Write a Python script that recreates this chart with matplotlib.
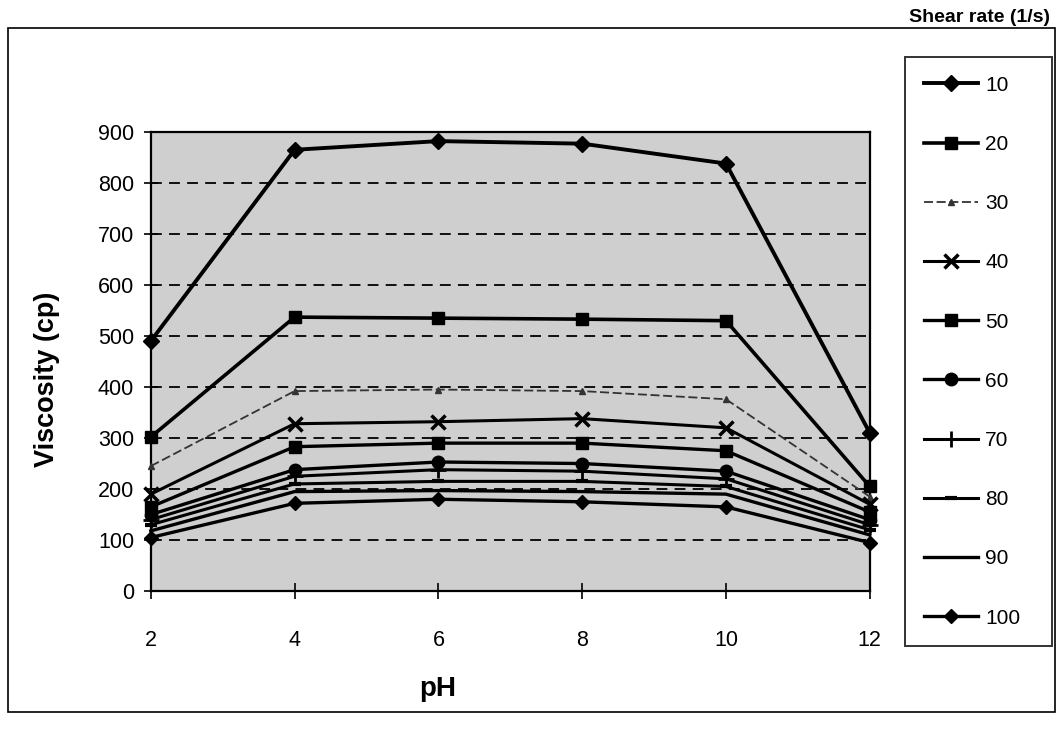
import matplotlib.pyplot as plt
from matplotlib.patches import Rectangle

plt.rcParams['font.family'] = ['Liberation Sans', 'DejaVu Sans']

ph = [2, 4, 6, 8, 10, 12]
shear_rates = ['10', '20', '30', '40', '50', '60', '70', '80', '90', '100']

# viscosity (cp) at each pH, one list per shear rate
visc_10 = [490, 865, 882, 877, 838, 310]
visc_20 = [302, 537, 535, 533, 530, 205]
visc_30 = [245, 392, 395, 392, 376, 185]
visc_40 = [190, 328, 332, 338, 320, 170]
visc_50 = [165, 283, 290, 290, 275, 155]
visc_60 = [150, 238, 253, 250, 235, 140]
visc_70 = [140, 225, 238, 235, 220, 130]
visc_80 = [130, 210, 215, 215, 205, 120]
visc_90 = [118, 195, 197, 195, 190, 110]
visc_100 = [105, 172, 180, 175, 165, 95]

series = [visc_10, visc_20, visc_30, visc_40, visc_50,
          visc_60, visc_70, visc_80, visc_90, visc_100]

# marker, size, line width, line style for each shear rate
styles = [
    dict(marker='D', ms=8, lw=2.8, ls='-'),
    dict(marker='s', ms=9, lw=2.6, ls='-'),
    dict(marker='^', ms=4, lw=1.3, ls=(0, (5, 2)), color='#333333'),
    dict(marker='x', ms=10, mew=2.5, lw=2.2, ls='-'),
    dict(marker='s', ms=8, lw=2.4, ls='-'),
    dict(marker='o', ms=9, lw=2.4, ls='-'),
    dict(marker='+', ms=11, mew=2, lw=2.2, ls='-'),
    dict(marker='_', ms=9, mew=3, lw=2.2, ls='-'),
    dict(marker='', lw=2.4, ls='-'),
    dict(marker='D', ms=7, lw=2.4, ls='-'),
]

fig = plt.figure(figsize=(10.62, 7.37), dpi=100)
ax = fig.add_axes([0.142, 0.198, 0.677, 0.623])
ax.set_facecolor('#cfcfcf')

for vals, lab, st in zip(series, shear_rates, styles):
    st = dict(st)
    color = st.pop('color', 'black')
    ax.plot(ph, vals, color=color, mfc=color, mec=color, label=lab,
            clip_on=False, zorder=3, **st)

ax.set_xlim(2, 12)
ax.set_ylim(0, 900)
ax.set_xticks(ph)
ax.set_yticks(range(0, 901, 100))
ax.yaxis.grid(True, color='black', lw=1.3, ls=(0, (6, 4)))
ax.set_axisbelow(True)
for sp in ax.spines.values():
    sp.set_linewidth(1.6)

ax.tick_params(axis='x', direction='inout', length=12, width=1.2, pad=22,
               labelsize=15.5)
ax.tick_params(axis='y', direction='inout', length=10, width=1.2, pad=7,
               labelsize=15.5)

ax.set_xlabel('pH', fontsize=20, fontweight='bold')
ax.xaxis.set_label_coords((437 - 150) / 720, -(676 - 591) / 458)
ax.set_ylabel('Viscosity (cp)', fontsize=19.5, fontweight='bold')
ax.yaxis.set_label_coords(-(150 - 59) / 720, (591 - 380) / 458)

fig.text(1050 / 1062, 1 - 18 / 737, 'Shear rate (1/s)', ha='right',
         va='center', fontsize=14, fontweight='bold')

handles, labels = ax.get_legend_handles_labels()
leg = fig.legend(handles, labels, loc='upper left', mode='expand',
                 bbox_to_anchor=(905 / 1062, 1 - 57 / 737, 147 / 1062, 0),
                 frameon=True, fancybox=False, edgecolor='black',
                 fontsize=15, labelspacing=1.93, handlelength=2.6,
                 handletextpad=0.35, borderpad=0.9, borderaxespad=0)
leg.get_frame().set_linewidth(1.4)

# outer chart frame
fig.patches.append(Rectangle((8 / 1062, 1 - 712 / 737), 1047 / 1062,
                             684 / 737, transform=fig.transFigure,
                             fill=False, edgecolor='black', lw=1.2))

fig.savefig('out.png', dpi=100)
